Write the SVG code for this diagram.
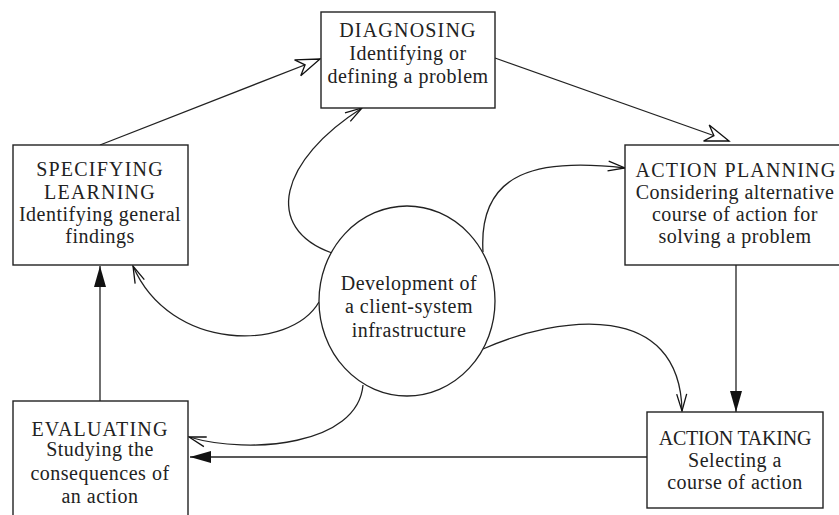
<svg xmlns="http://www.w3.org/2000/svg" width="839" height="515" viewBox="0 0 839 515">
<style>
  .box { fill: #fff; stroke: #222; stroke-width: 1.4; }
  .ell { fill: #fff; stroke: #222; stroke-width: 1.3; }
  .t { font-family: "Liberation Serif", "Times New Roman", serif; font-size: 20px; fill: #222; text-anchor: middle; letter-spacing: 0.5px; }
  .cap { letter-spacing: 1.2px; }
  .cap2 { letter-spacing: -0.2px; }
  .c { fill: none; stroke: #222; stroke-width: 1.3; }
</style>
<defs>
  <marker id="fill" viewBox="-23 -8 25 16" refX="0" refY="0" markerWidth="25" markerHeight="16" orient="auto" markerUnits="userSpaceOnUse">
    <path d="M-21,-6 L0,0 L-21,6 Z" fill="#111"/>
  </marker>
  <marker id="open" viewBox="-19 -8 21 16" refX="0" refY="0" markerWidth="21" markerHeight="16" orient="auto" markerUnits="userSpaceOnUse">
    <path d="M-17,-5 L0,0 L-17,5" fill="none" stroke="#111" stroke-width="1.3"/>
  </marker>
  <marker id="hollow" viewBox="-27 -11 29 22" refX="0" refY="0" markerWidth="29" markerHeight="22" orient="auto" markerUnits="userSpaceOnUse">
    <path d="M0,0 L-24,-8.5 L-16,0 L-24,8.5 Z" fill="#fff" stroke="#111" stroke-width="1.3" stroke-linejoin="miter"/>
  </marker>
</defs>
<rect width="839" height="515" fill="#fff"/>

<g id="connectors">
  <line class="c" x1="100" y1="145" x2="320" y2="59" marker-end="url(#hollow)"/>
  <line class="c" x1="495" y1="58" x2="729" y2="141" marker-end="url(#hollow)"/>
  <line class="c" x1="736" y1="265" x2="736" y2="412" marker-end="url(#fill)"/>
  <line class="c" x1="647" y1="457" x2="190" y2="457" marker-end="url(#fill)"/>
  <line class="c" x1="100" y1="401" x2="100" y2="266" marker-end="url(#fill)"/>
  <path class="c" d="M332,253 C262,228 280,160 362,108" marker-end="url(#open)"/>
  <path class="c" d="M483,252 C478,170 540,158 625,168" marker-end="url(#open)"/>
  <path class="c" d="M319,302 C290,352 170,352 133,266" marker-end="url(#open)"/>
  <path class="c" d="M363,385 C358,445 250,455 189,437" marker-end="url(#open)"/>
  <path class="c" d="M483,349 C560,315 680,300 682,411" marker-end="url(#open)"/>
</g>

<g id="diagnosing">
  <rect class="box" x="321" y="12" width="174" height="96"/>
  <text class="t cap" x="408" y="37">DIAGNOSING</text>
  <text class="t" x="408" y="60">Identifying or</text>
  <text class="t" x="408" y="83">defining a problem</text>
</g>

<g id="specifying-learning">
  <rect class="box" x="13" y="145" width="175" height="120"/>
  <text class="t cap" x="100" y="176">SPECIFYING</text>
  <text class="t cap" x="100" y="199">LEARNING</text>
  <text class="t" x="100" y="221">Identifying general</text>
  <text class="t" x="100" y="243">findings</text>
</g>

<g id="action-planning">
  <rect class="box" x="625" y="145" width="230" height="120"/>
  <text class="t cap" x="736" y="177">ACTION PLANNING</text>
  <text class="t" x="735" y="199">Considering alternative</text>
  <text class="t" x="735" y="221">course of action for</text>
  <text class="t" x="735" y="243">solving a problem</text>
</g>

<g id="action-taking">
  <rect class="box" x="647" y="412" width="176" height="96"/>
  <text class="t cap2" x="735" y="445">ACTION TAKING</text>
  <text class="t" x="735" y="467">Selecting a</text>
  <text class="t" x="735" y="489">course of action</text>
</g>

<g id="evaluating">
  <rect class="box" x="13" y="401" width="175" height="130"/>
  <text class="t cap" x="100" y="436">EVALUATING</text>
  <text class="t" x="100" y="456">Studying the</text>
  <text class="t" x="100" y="480">consequences of</text>
  <text class="t" x="100" y="503">an action</text>
</g>

<g id="infrastructure">
  <ellipse class="ell" cx="407" cy="301" rx="88" ry="95"/>
  <text class="t" x="409" y="290">Development of</text>
  <text class="t" x="409" y="313">a client-system</text>
  <text class="t" x="409" y="337">infrastructure</text>
</g>
</svg>
